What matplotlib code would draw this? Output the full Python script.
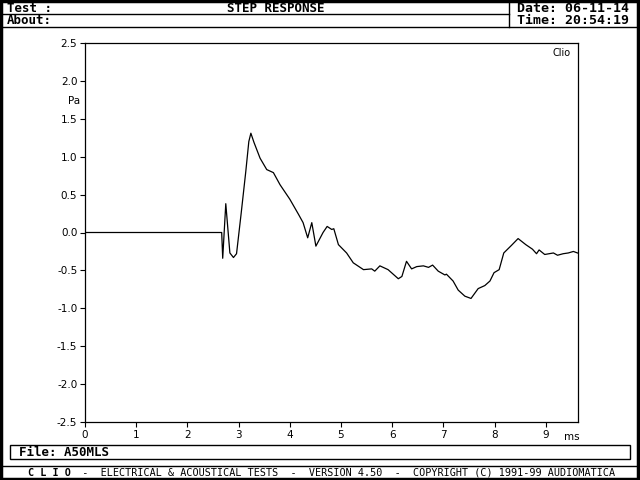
import matplotlib
matplotlib.use("Agg")
import matplotlib.pyplot as plt
from matplotlib.lines import Line2D
from matplotlib.patches import Rectangle

# Step response (ms, Pa)
time_ms = [0.0, 2.67, 2.69, 2.75, 2.83, 2.90, 2.96, 3.05, 3.14, 3.20, 3.24,
           3.3, 3.42, 3.55, 3.68, 3.81, 4.0, 4.17, 4.26, 4.35, 4.43, 4.51,
           4.65, 4.73, 4.82, 4.86, 4.95, 5.11, 5.24, 5.44, 5.6, 5.66, 5.76,
           5.92, 6.12, 6.19, 6.28, 6.38, 6.48, 6.61, 6.71, 6.79, 6.9, 7.03,
           7.06, 7.19, 7.29, 7.42, 7.54, 7.68, 7.81, 7.91, 7.99, 8.09, 8.18,
           8.33, 8.46, 8.61, 8.74, 8.82, 8.87, 8.98, 9.15, 9.23, 9.34, 9.44,
           9.54, 9.62]
pressure = [0.0, 0.0, -0.34, 0.38, -0.27, -0.33, -0.28, 0.25, 0.80, 1.20,
            1.31, 1.19, 0.98, 0.83, 0.79, 0.63, 0.44, 0.24, 0.13, -0.07, 0.13,
            -0.18, 0.0, 0.08, 0.04, 0.05, -0.16, -0.27, -0.40, -0.49, -0.48,
            -0.51, -0.44, -0.49, -0.61, -0.58, -0.38, -0.48, -0.45, -0.44,
            -0.46, -0.43, -0.51, -0.56, -0.55, -0.64, -0.76, -0.84, -0.87,
            -0.74, -0.70, -0.64, -0.53, -0.49, -0.27, -0.17, -0.08, -0.16,
            -0.22, -0.28, -0.23, -0.29, -0.27, -0.30, -0.28, -0.27, -0.25,
            -0.27]

x_ticks = [0, 1, 2, 3, 4, 5, 6, 7, 8, 9]
y_ticks = [-2.5, -2.0, -1.5, -1.0, -0.5, 0.0, 0.5, 1.0, 1.5, 2.0, 2.5]

W, H = 640, 480


def fx(px):
    return px / W


def fy(py):
    return 1 - py / H


def hline(y, x0, x1, lw=1.0):
    fig.add_artist(Line2D([fx(x0), fx(x1)], [fy(y), fy(y)], color='black',
                          lw=lw, transform=fig.transFigure))


def vline(x, y0, y1, lw=1.0):
    fig.add_artist(Line2D([fx(x), fx(x)], [fy(y0), fy(y1)], color='black',
                          lw=lw, transform=fig.transFigure))


fig = plt.figure(figsize=(6.4, 4.8), dpi=100)
fig.patch.set_facecolor('white')

ax = fig.add_axes([fx(85), fy(422), fx(578) - fx(85), fy(43) - fy(422)])
ax.plot(time_ms, pressure, color='black', lw=0.9)
ax.set_xlim(0, 9.63)
ax.set_ylim(-2.5, 2.5)
ax.set_xticks(x_ticks)
ax.set_yticks(y_ticks)
ax.set_xticklabels([str(t) for t in x_ticks])
ax.set_yticklabels(['%.1f' % t for t in y_ticks])
ax.tick_params(direction='out', length=3.5, width=0.8, labelsize=7.5,
               pad=2, top=False, right=False)
for s in ax.spines.values():
    s.set_linewidth(0.9)

ax.text(0.985, 0.988, 'Clio', transform=ax.transAxes, ha='right', va='top',
        fontsize=7)
fig.text(fx(74), fy(101), 'Pa', ha='center', va='center', fontsize=7.5)
fig.text(fx(572), fy(437), 'ms', ha='center', va='center', fontsize=7.5)

# outer frame
fig.add_artist(Rectangle((0.002, 0.003), 0.995, 0.995, fill=False,
                         ec='black', lw=2.5, transform=fig.transFigure))

# header
mono = 'DejaVu Sans Mono'
hline(14, 0, 509)
hline(27, 0, 640)
vline(509, 0, 27)
fig.text(fx(7), fy(8), 'Test :', family=mono, weight='bold', fontsize=9,
         va='center')
fig.text(fx(7), fy(20.5), 'About:', family=mono, weight='bold', fontsize=9,
         va='center')
fig.text(fx(276), fy(8), 'STEP RESPONSE', family=mono, weight='bold',
         fontsize=9, ha='center', va='center')
fig.text(fx(517), fy(8), 'Date: 06-11-14', family=mono, weight='bold',
         fontsize=9.5, va='center')
fig.text(fx(517), fy(20.5), 'Time: 20:54:19', family=mono, weight='bold',
         fontsize=9.5, va='center')

# file box and footer
fig.add_artist(Rectangle((fx(10), fy(459)), fx(630) - fx(10), fy(445) - fy(459),
                         fill=False, ec='black', lw=1.0,
                         transform=fig.transFigure))
hline(466, 0, 640)
fig.text(fx(19), fy(452.5), 'File: A50MLS', family=mono, weight='bold',
         fontsize=9, va='center')
fig.text(fx(28), fy(472.5), 'C L I O', family=mono, weight='bold',
         fontsize=7.25, va='center')
fig.text(fx(28 + 7 * 6.06), fy(472.5),
         '  -  ELECTRICAL & ACOUSTICAL TESTS  -  VERSION 4.50  -  '
         'COPYRIGHT (C) 1991-99 AUDIOMATICA',
         family=mono, fontsize=7.25, va='center')

plt.savefig('out.png', dpi=100)
